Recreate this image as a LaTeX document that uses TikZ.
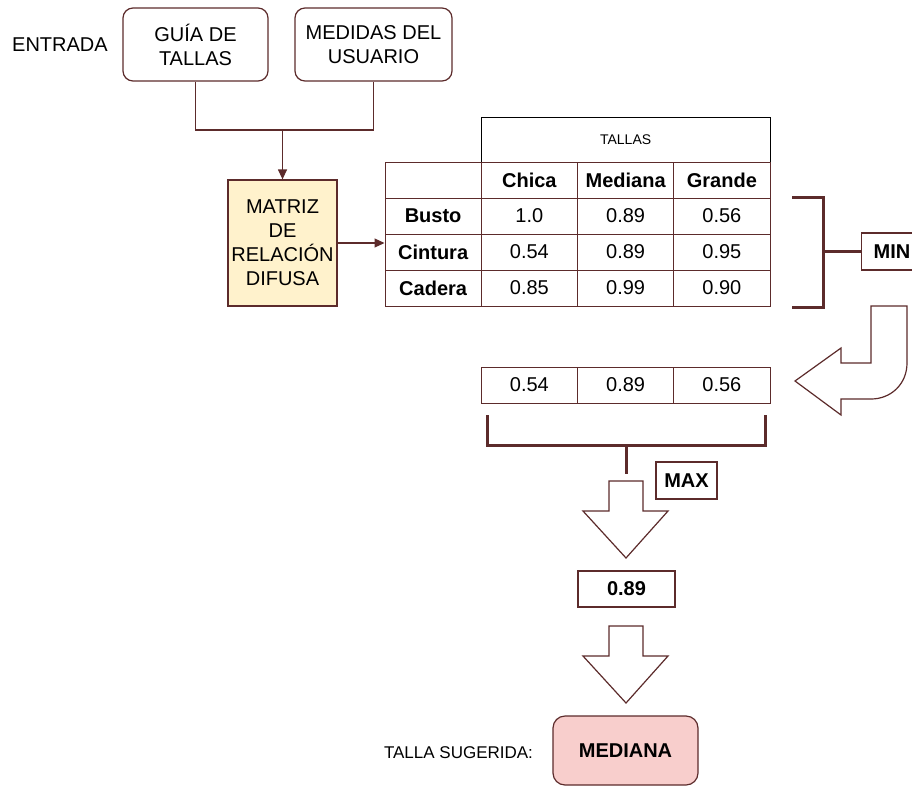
\documentclass[tikz,border=0pt]{standalone}
\usepackage{fontspec}
\setmainfont{Liberation Sans}
\usepackage{xcolor}
\usepackage{tikz}
\usetikzlibrary{arrows.meta}

\definecolor{borde}{HTML}{5C2B2B}
\definecolor{amarillo}{HTML}{FFF2CC}
\definecolor{rosa}{HTML}{F8CECC}

\tikzset{
  normal/.style={font=\fontsize{20}{24}\selectfont},
  negrita/.style={font=\fontsize{20}{24}\selectfont\bfseries},
  caja/.style={draw=borde, line width=1.2pt, align=center, inner sep=0pt, normal},
  redonda/.style={caja, rounded corners=10pt},
  celda/.style={draw=borde, line width=1pt, minimum width=96.25pt, minimum height=36pt, inner sep=0pt, normal},
  linea/.style={draw=borde, line width=1.2pt},
  flechita/.style={linea, -{Triangle[length=10pt,width=9pt]}},
  llave/.style={draw=borde, line width=3pt},
  flecha/.style={draw=borde, line width=1.2pt, fill=white, line join=miter},
}

\begin{document}
\begin{tikzpicture}[x=1pt, y=-1pt]
    \clip (0,0) rectangle (912,787);

    % entrada
    \node[normal] (entrada) at (60,45) {ENTRADA};
    \node[redonda, minimum width=145pt, minimum height=73pt] (guia) at (195.5,44.5) {GUÍA DE\\TALLAS};
    \node[redonda, minimum width=157pt, minimum height=73pt] (medidas) at (373.5,44.5) {MEDIDAS DEL\\USUARIO};
    \node[caja, fill=amarillo, minimum width=109pt, minimum height=126pt] (matriz) at (282.5,243) {MATRIZ\\DE\\RELACIÓN\\DIFUSA};
    \coordinate (union) at (282.5,130);
    \draw[linea] (guia.south) |- (union) -| (medidas.south);
    \draw[flechita] (union) -- (matriz.north);

    % tabla
    \node[caja, draw=black, line width=1pt, minimum width=288.75pt, minimum height=45pt, font=\fontsize{14}{16}\selectfont] (tallas) at (625.625,139.5) {TALLAS};
    \node[celda] (t0-0) at (433.125,180) {};
    \foreach \n/\c in {1/Chica, 2/Mediana, 3/Grande}
        \node[celda, negrita] (t0-\n) at (433.125+96.25*\n,180) {\c};
    \foreach \f/\nom/\va/\vb/\vc in {1/Busto/1.0/0.89/0.56, 2/Cintura/0.54/0.89/0.95, 3/Cadera/0.85/0.99/0.90} {
        \node[celda, negrita] (t\f-0) at (433.125,180+36*\f) {\nom};
        \node[celda] (t\f-1) at (529.375,180+36*\f) {\va};
        \node[celda] (t\f-2) at (625.625,180+36*\f) {\vb};
        \node[celda] (t\f-3) at (721.875,180+36*\f) {\vc};
    }
    \draw[flechita] (matriz.east) -- (matriz.east -| t2-0.west);

    % minimo
    \node[caja, negrita, anchor=west, minimum height=37pt, text width=68pt, align=left, inner xsep=12pt] (min) at (861,251.5) {MIN};
    \draw[llave] (792,197) -| (823,307) -- (792,307);
    \coordinate (llavemin) at (823,251.5);
    \draw[llave] (llavemin) -- (min.west);
    \draw[flecha] (871,306) -- (907,306) -- (907,363) .. controls (907,384) and (891,399) .. (871,399)
        -- (841,399) -- (841,415) -- (795,381) -- (841,348) -- (841,363) -- (871,363) -- cycle;

    % vector de minimos
    \foreach \n/\v in {1/0.54, 2/0.89, 3/0.56}
        \node[celda] (v\n) at (433.125+96.25*\n,385) {\v};

    % maximo
    \draw[llave] (487,415) |- (765,445) -- (765,415);
    \coordinate (llavemax) at (626,445);
    \coordinate (finmax) at (626,474);
    \draw[llave] (llavemax) -- (finmax);
    \node[caja, negrita, minimum width=61pt, minimum height=37pt] (max) at (686.5,480.5) {MAX};
    \foreach \ya in {481,626}
        \draw[flecha] (609,\ya) -- (609,\ya+30) -- (583,\ya+30) -- (626,\ya+77) -- (668,\ya+30) -- (643,\ya+30) -- (643,\ya) -- cycle;
    \node[caja, negrita, minimum width=97pt, minimum height=36pt] (res) at (626.5,589) {0.89};

    % salida
    \node[redonda, negrita, fill=rosa, rounded corners=12pt, minimum width=145pt, minimum height=69pt] (talla) at (625.5,750.5) {MEDIANA};
    \node[font=\fontsize{17}{20}\selectfont] (sugerida) at (458.5,753) {TALLA SUGERIDA:};
\end{tikzpicture}
\end{document}
